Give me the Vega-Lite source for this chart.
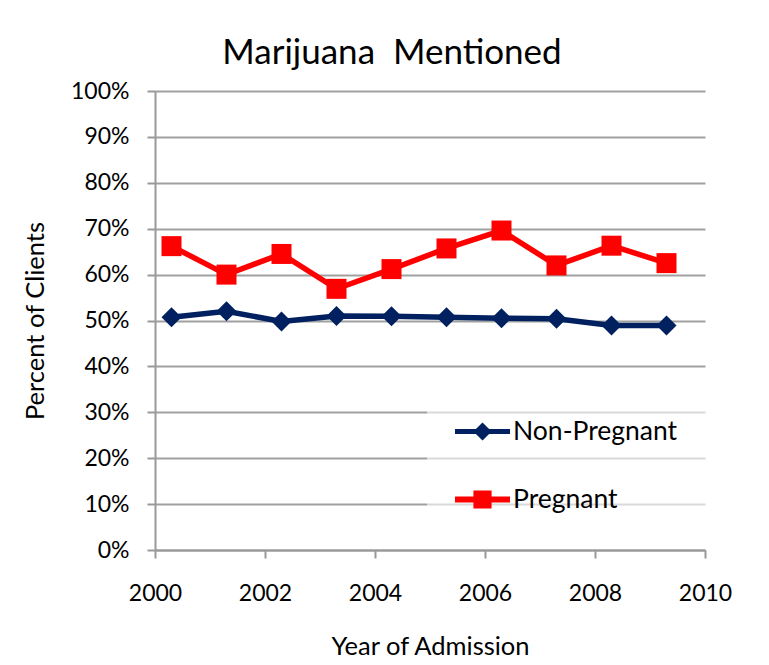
{
  "$schema": "https://vega.github.io/schema/vega-lite/v6.json",
  "width": 550,
  "height": 459,
  "autosize": {"type": "none"},
  "padding": {"left": 155, "top": 91, "right": 64, "bottom": 115},
  "background": "white",
  "title": {
    "text": "Marijuana\u00a0 Mentioned",
    "font": "Lato",
    "fontSize": 35,
    "fontWeight": "normal",
    "color": "black",
    "anchor": "middle",
    "frame": "group",
    "dx": -38,
    "offset": 9
  },
  "config": {
    "view": {"stroke": null},
    "font": "Lato",
    "axis": {
      "labelFont": "Lato",
      "labelFontSize": 23,
      "labelColor": "black",
      "titleFont": "Lato",
      "titleFontSize": 25.5,
      "titleFontWeight": "normal",
      "titleColor": "black",
      "domainColor": "#999999",
      "domainWidth": 2,
      "tickColor": "#999999",
      "tickWidth": 2,
      "tickSize": 8,
      "gridColor": "#a0a0a0",
      "gridWidth": 2
    }
  },
  "data": {
    "values": [
      {"Year": 2000.3, "Percent": 0.507, "Group": "Non-Pregnant"},
      {"Year": 2001.3, "Percent": 0.520, "Group": "Non-Pregnant"},
      {"Year": 2002.3, "Percent": 0.498, "Group": "Non-Pregnant"},
      {"Year": 2003.3, "Percent": 0.510, "Group": "Non-Pregnant"},
      {"Year": 2004.3, "Percent": 0.509, "Group": "Non-Pregnant"},
      {"Year": 2005.3, "Percent": 0.507, "Group": "Non-Pregnant"},
      {"Year": 2006.3, "Percent": 0.505, "Group": "Non-Pregnant"},
      {"Year": 2007.3, "Percent": 0.504, "Group": "Non-Pregnant"},
      {"Year": 2008.3, "Percent": 0.489, "Group": "Non-Pregnant"},
      {"Year": 2009.3, "Percent": 0.489, "Group": "Non-Pregnant"},
      {"Year": 2000.3, "Percent": 0.662, "Group": "Pregnant"},
      {"Year": 2001.3, "Percent": 0.600, "Group": "Pregnant"},
      {"Year": 2002.3, "Percent": 0.645, "Group": "Pregnant"},
      {"Year": 2003.3, "Percent": 0.569, "Group": "Pregnant"},
      {"Year": 2004.3, "Percent": 0.612, "Group": "Pregnant"},
      {"Year": 2005.3, "Percent": 0.657, "Group": "Pregnant"},
      {"Year": 2006.3, "Percent": 0.696, "Group": "Pregnant"},
      {"Year": 2007.3, "Percent": 0.620, "Group": "Pregnant"},
      {"Year": 2008.3, "Percent": 0.663, "Group": "Pregnant"},
      {"Year": 2009.3, "Percent": 0.625, "Group": "Pregnant"}
    ]
  },
  "encoding": {
    "x": {
      "field": "Year",
      "type": "quantitative",
      "scale": {"domain": [2000, 2010], "nice": false, "zero": false},
      "axis": {
        "values": [2000, 2002, 2004, 2006, 2008, 2010],
        "format": "d",
        "grid": false,
        "labelFlush": false,
        "labelPadding": 24,
        "title": "Year of Admission",
        "titlePadding": 29
      }
    },
    "y": {
      "field": "Percent",
      "type": "quantitative",
      "scale": {"domain": [0, 1], "nice": false},
      "axis": {
        "values": [0, 0.1, 0.2, 0.3, 0.4, 0.5, 0.6, 0.7, 0.8, 0.9, 1],
        "format": ".0%",
        "labelFlush": false,
        "labelPadding": 18,
        "title": "Percent of Clients",
        "titlePadding": 22
      }
    },
    "color": {
      "field": "Group",
      "type": "nominal",
      "scale": {"domain": ["Non-Pregnant", "Pregnant"], "range": ["#002060", "#ff0000"]},
      "legend": {
        "title": null,
        "orient": "none",
        "legendX": 272,
        "legendY": 285,
        "padding": 28,
        "fillColor": "rgba(255,255,255,0.6)",
        "labelFont": "Lato",
        "labelFontSize": 26.5,
        "labelColor": "black",
        "labelLimit": 400,
        "labelOffset": 3,
        "rowPadding": 27,
        "symbolSize": 3025,
        "symbolStrokeWidth": 0,
        "symbolType": "M-1,-0.09L1,-0.09L1,0.09L-1,0.09Z M0,-0.33L0.33,0L0,0.33L-0.33,0Z",
        "encoding": {
          "symbols": {
            "shape": {
              "condition": {
                "test": "datum.value === 'Pregnant'",
                "value": "M-1,-0.11L1,-0.11L1,0.11L-1,0.11Z M-0.33,-0.33L0.33,-0.33L0.33,0.33L-0.33,0.33Z"
              },
              "value": "M-1,-0.09L1,-0.09L1,0.09L-1,0.09Z M0,-0.33L0.33,0L0,0.33L-0.33,0Z"
            },
            "strokeWidth": {"value": 0},
            "opacity": {"value": 1}
          }
        }
      }
    }
  },
  "layer": [
    {
      "mark": {"type": "line", "strokeWidth": 5.5},
      "encoding": {}
    },
    {
      "transform": [{"filter": "datum.Group === 'Non-Pregnant'"}],
      "mark": {"type": "point", "shape": "diamond", "filled": true, "size": 400, "opacity": 1},
      "encoding": {}
    },
    {
      "transform": [{"filter": "datum.Group === 'Pregnant'"}],
      "mark": {"type": "point", "shape": "square", "filled": true, "size": 400, "opacity": 1},
      "encoding": {}
    }
  ]
}
